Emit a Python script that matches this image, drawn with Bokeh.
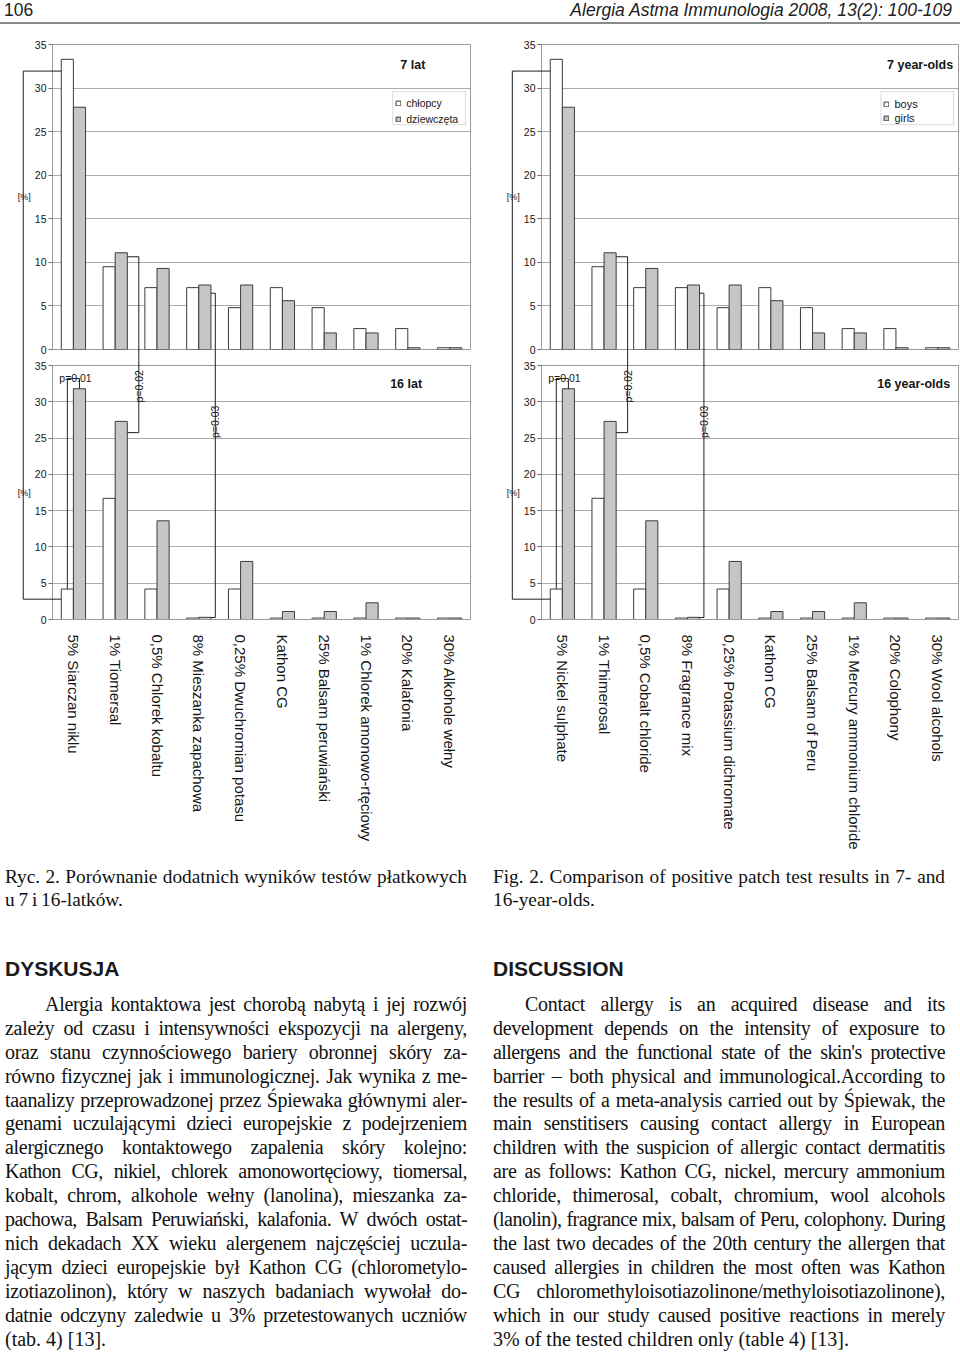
import math
from bokeh.plotting import figure
from bokeh.models import (ColumnDataSource, FactorRange, Range1d, FixedTicker, Label,
                          Legend, LegendItem, BoxAnnotation, Div)
from bokeh.transform import dodge
from bokeh.layouts import column, row
from bokeh.embed import file_html
from bokeh.resources import INLINE

# ---------------- data ----------------
categories_pl = ["5% Siarczan niklu", "1% Tiomersal", "0,5% Chlorek kobaltu",
                 "8% Mieszanka zapachowa", "0,25% Dwuchromian potasu", "Kathon CG",
                 "25% Balsam peruwiański", "1% Chlorek amonowo-rtęciowy",
                 "20% Kalafonia", "30% Alkohole wełny"]
categories_en = ["5% Nickel sulphate", "1% Thimerosal", "0,5% Cobalt chloride",
                 "8% Fragrance mix", "0,25% Potassium dichromate", "Kathon CG",
                 "25% Balsam of Peru", "1% Mercury ammonium chloride",
                 "20% Colophony", "30% Wool alcohols"]
boys_7yo = [33.3, 9.5, 7.1, 7.1, 4.8, 7.1, 4.8, 2.4, 2.4, 0.2]
girls_7yo = [27.8, 11.1, 9.3, 7.4, 7.4, 5.6, 1.9, 1.9, 0.2, 0.2]
boys_16yo = [4.2, 16.7, 4.2, 0.2, 4.2, 0.2, 0.2, 0.2, 0.2, 0.2]
girls_16yo = [31.8, 27.3, 13.6, 0.3, 8.0, 1.1, 1.1, 2.3, 0.2, 0.2]
y_ticks = [0, 5, 10, 15, 20, 25, 30, 35]
series_pl = ["chłopcy", "dziewczęta"]
series_en = ["boys", "girls"]
titles_pl = ["7 lat", "16 lat"]
titles_en = ["7 year-olds", "16 year-olds"]
p_labels = ["p=0.01", "p=0.02", "p=0.03", "p=0.01"]

header_left = "106"
header_right = "Alergia Astma Immunologia 2008, 13(2): 100-109"
caption_pl = ["Ryc. 2. Porównanie dodatnich wyników testów płatkowych", "u 7 i 16-latków."]
caption_en = ["Fig. 2. Comparison of positive patch test results in 7- and", "16-year-olds."]
heading_pl = "DYSKUSJA"
heading_en = "DISCUSSION"
text_pl = [
    "Alergia kontaktowa jest chorobą nabytą i jej rozwój",
    "zależy od czasu i intensywności ekspozycji na alergeny,",
    "oraz stanu czynnościowego bariery obronnej skóry za-",
    "równo fizycznej jak i immunologicznej. Jak wynika z me-",
    "taanalizy przeprowadzonej przez Śpiewaka głównymi aler-",
    "genami uczulającymi dzieci europejskie z podejrzeniem",
    "alergicznego kontaktowego zapalenia skóry kolejno:",
    "Kathon CG, nikiel, chlorek amonowortęciowy, tiomersal,",
    "kobalt, chrom, alkohole wełny (lanolina), mieszanka za-",
    "pachowa, Balsam Peruwiański, kalafonia. W dwóch ostat-",
    "nich dekadach XX wieku alergenem najczęściej uczula-",
    "jącym dzieci europejskie był Kathon CG (chlorometylo-",
    "izotiazolinon), który w naszych badaniach wywołał do-",
    "datnie odczyny zaledwie u 3% przetestowanych uczniów",
    "(tab. 4) [13].",
]
text_en = [
    "Contact allergy is an acquired disease and its",
    "development depends on the intensity of exposure to",
    "allergens and the functional state of the skin's protective",
    "barrier – both physical and immunological.According to",
    "the results of a meta-analysis carried out by Śpiewak, the",
    "main senstitisers causing contact allergy in European",
    "children with the suspicion of allergic contact dermatitis",
    "are as follows: Kathon CG, nickel, mercury ammonium",
    "chloride, thimerosal, cobalt, chromium, wool alcohols",
    "(lanolin), fragrance mix, balsam of Peru, colophony. During",
    "the last two decades of the 20th century the allergen that",
    "caused allergies in children the most often was Kathon",
    "CG chloromethyloisotiazolinone/methyloisotiazolinone),",
    "which in our study caused positive reactions in merely",
    "3% of the tested children only (table 4) [13].",
]

# ---------------- styles ----------------
SANS = "Liberation Sans"
SERIF = "Liberation Serif"
BOY_FILL = "#ffffff"
GIRL_FILL = "#c6c6c6"
BAR_LINE = "#3c3c3c"
GRID = "#ababab"
FRAME = "#9a9a9a"
INK = "#161616"
OFF = 0.145          # dodge of each bar from the category centre
BW = 0.29            # bar width (category units)
LINK_X = -0.70       # x of the long bracket left of the axis
P02_X = 2.065
P03_X = 3.895


def bar_center(i, s):
    return i + 0.5 + (-OFF if s == 0 else OFF)


def bar_edge(i, s, side):
    return bar_center(i, s) + side * BW / 2


def style_common(p):
    p.background_fill_color = "white"
    p.border_fill_color = "white"
    p.outline_line_color = FRAME
    p.outline_line_width = 1
    for g in p.grid:
        if g.dimension == 0:
            g.visible = False
        else:
            g.ticker = FixedTicker(ticks=y_ticks)
            g.grid_line_color = GRID
            g.grid_line_width = 1
    ax = p.yaxis[0]
    ax.ticker = FixedTicker(ticks=y_ticks)
    ax.major_tick_out = 4
    ax.major_tick_in = 0
    ax.minor_tick_line_color = None
    ax.axis_line_color = FRAME
    ax.major_tick_line_color = "#707070"
    ax.major_label_text_font = SANS
    ax.major_label_text_font_size = "10.5px"
    ax.major_label_text_color = INK
    ax.major_label_standoff = 2
    ax.axis_label = "[%]"
    ax.axis_label_orientation = "horizontal"
    ax.axis_label_text_font = SANS
    ax.axis_label_text_font_style = "normal"
    ax.axis_label_text_font_size = "9px"
    ax.axis_label_text_color = INK
    ax.axis_label_standoff = 1


def draw_bars(p, cats, boys, girls):
    src = ColumnDataSource(dict(cat=cats, boys=boys, girls=girls))
    rb = p.vbar(x=dodge("cat", -OFF, range=p.x_range), top="boys", width=BW, source=src,
                fill_color=BOY_FILL, line_color=BAR_LINE, line_width=1)
    rg = p.vbar(x=dodge("cat", OFF, range=p.x_range), top="girls", width=BW, source=src,
                fill_color=GIRL_FILL, line_color=BAR_LINE, line_width=1)
    return rb, rg


def p_label(p, text, x, y, angle=0.0, align="left"):
    p.add_layout(Label(x=x, y=y, text=text, angle=angle, text_align=align,
                       text_baseline="alphabetic", text_font=SANS,
                       text_font_size="10.5px", text_color=INK))


def make_top(cats, series, title, title_x, title_align, width, mbl, mbr, legend_rows):
    p = figure(x_range=FactorRange(*cats), y_range=Range1d(0, 35), width=width, height=327,
               min_border_left=mbl, min_border_right=mbr, min_border_top=14, min_border_bottom=8,
               x_axis_location=None, toolbar_location=None, output_backend="svg")
    style_common(p)
    rb, rg = draw_bars(p, cats, boys_7yo, girls_7yo)
    frame_w = width - mbl - mbr
    cw = frame_w / len(cats)
    # legend box (behind a borderless legend)
    box_l, box_r, box_t, box_b = 8.14, 9.88, 29.6, 25.8
    p.add_layout(BoxAnnotation(left=box_l, right=box_r, top=box_t, bottom=box_b,
                               fill_color="white", fill_alpha=1.0,
                               line_color="#8c8c8c", line_width=1))
    row_h, font_sz = legend_rows
    leg_h = 3 + row_h + 1 + row_h + 3
    top_px = (35 - box_t) * 305 / 35
    box_h = (box_t - box_b) * 305 / 35
    leg_y = 305 - top_px - box_h / 2 - leg_h / 2
    leg = Legend(items=[LegendItem(label=series[0], renderers=[rb]),
                        LegendItem(label=series[1], renderers=[rg])],
                 location=(box_l * cw + 3, leg_y), orientation="vertical",
                 glyph_width=6, glyph_height=6, label_height=row_h, label_standoff=5,
                 label_text_font=SANS, label_text_font_size=font_sz, label_text_color=INK,
                 padding=3, spacing=1, margin=0, border_line_color=None,
                 background_fill_alpha=0.0)
    p.add_layout(leg)
    p.add_layout(Label(x=title_x, y=32.6, text=title, text_align=title_align,
                       text_baseline="middle", text_font=SANS, text_font_style="bold",
                       text_font_size="12.5px", text_color=INK))
    # bracket pieces (continue into the lower panel)
    xs = [[LINK_X, LINK_X, bar_edge(0, 0, -1)],
          [bar_edge(1, 1, 1), P02_X, P02_X],
          [bar_edge(3, 1, 1), P03_X, P03_X]]
    ys = [[-3, 31.95, 31.95],
          [10.64, 10.64, -3],
          [6.46, 6.46, -3]]
    p.multi_line(xs=xs, ys=ys, line_color="#202020", line_width=1, level="overlay")
    p_label(p, p_labels[0], LINK_X, 0.2, angle=math.pi / 2)
    return p


def make_bottom(cats, title, title_x, title_align, width, mbl, mbr):
    p = figure(x_range=FactorRange(*cats), y_range=Range1d(0, 35), width=width, height=505,
               min_border_left=mbl, min_border_right=mbr, min_border_top=8, min_border_bottom=243,
               toolbar_location=None, output_backend="svg")
    style_common(p)
    draw_bars(p, cats, boys_16yo, girls_16yo)
    xa = p.xaxis[0]
    xa.major_label_orientation = "vertical"
    xa.major_label_text_font = SANS
    xa.major_label_text_font_size = "15px"
    xa.major_label_text_color = INK
    xa.major_tick_line_color = None
    xa.major_tick_out = 0
    xa.major_tick_in = 0
    xa.major_label_standoff = 15
    xa.axis_line_color = FRAME
    p.add_layout(Label(x=title_x, y=32.5, text=title, text_align=title_align,
                       text_baseline="middle", text_font=SANS, text_font_style="bold",
                       text_font_size="12.5px", text_color=INK))
    xs = [[LINK_X, LINK_X, bar_edge(0, 0, -1)],
          [P02_X, P02_X, bar_edge(1, 1, 1)],
          [P03_X, P03_X, bar_edge(3, 1, 1)],
          [bar_center(0, 0), bar_center(0, 0), bar_center(0, 1), bar_center(0, 1)]]
    ys = [[40, 2.8, 2.8],
          [40, 25.75, 25.75],
          [40, 0.27, 0.27],
          [boys_16yo[0], 33.2, 33.2, girls_16yo[0]]]
    p.multi_line(xs=xs, ys=ys, line_color="#202020", line_width=1, level="overlay")
    p_label(p, p_labels[1], P02_X, 29.9, angle=math.pi / 2)
    p_label(p, p_labels[2], P03_X, 25.0, angle=math.pi / 2)
    p_label(p, p_labels[3], 0.55, 33.3, align="center")
    return p


LW, RW = 488, 472
top_l = make_top(categories_pl, series_pl, titles_pl[0], 8.62, "center", LW, 52, 18, (15, "10.5px"))
top_r = make_top(categories_en, series_en, titles_en[0], 9.87, "right", RW, 53, 2, (13, "11px"))
bot_l = make_bottom(categories_pl, titles_pl[1], 8.46, "center", LW, 52, 18)
bot_r = make_bottom(categories_en, titles_en[1], 9.80, "right", RW, 53, 2)

# ---------------- text blocks ----------------
header = Div(width=960, height=30, margin=0, text=(
    "<div style=\"position:relative;height:24px;width:960px;"
    "border-bottom:2px solid #8a8a8a;font-family:'Liberation Sans',sans-serif;"
    "font-size:17.5px;line-height:18px;color:#222;\">"
    f"<span style=\"position:absolute;left:4px;top:1px;\">{header_left}</span>"
    f"<span style=\"position:absolute;right:8px;top:1px;font-style:italic;\">{header_right}</span>"
    "</div>"))

TIGHT_PL = {7, 9}
TIGHT_EN = {2, 9}


def text_block(caption, heading, lines, indent, pad_left, inner_w, tight):
    jl = "text-align:justify;text-align-last:justify;"
    cap = "".join(
        f"<div style=\"{jl if i < len(caption) - 1 else ''}\">{t}</div>"
        for i, t in enumerate(caption))
    body = []
    for i, t in enumerate(lines):
        if i < len(lines) - 1:
            st = jl + ("letter-spacing:-0.55px;" if i in tight else "letter-spacing:-0.3px;")
        else:
            st = "text-align:left;letter-spacing:0;word-spacing:0;"
        if i == 0:
            st += f"text-indent:{indent}px;"
        body.append(f"<div style=\"{st}\">{t}</div>")
    return (
        f"<div style=\"padding-left:{pad_left}px;width:{inner_w}px;"
        "font-family:'Liberation Serif',serif;color:#111;\">"
        f"<div style=\"padding-top:3.3px;font-size:19.3px;line-height:23px;word-spacing:-1px;\">{cap}</div>"
        "<div style=\"margin-top:45.1px;font-family:'Liberation Sans',sans-serif;font-weight:bold;"
        f"font-size:21px;line-height:26px;color:#1a1a1a;\">{heading}</div>"
        "<div style=\"margin-top:10.5px;font-size:20px;line-height:23.9px;"
        f"word-spacing:-3px;\">{''.join(body)}</div>"
        "</div>")


txt_l = Div(width=480, height=491, margin=0,
            text=text_block(caption_pl, heading_pl, text_pl, 40, 5, 467, TIGHT_PL))
txt_r = Div(width=480, height=491, margin=0,
            text=text_block(caption_en, heading_en, text_en, 32, 13, 465, TIGHT_EN))

page = column(header,
              row(top_l, top_r, spacing=0),
              row(bot_l, bot_r, spacing=0),
              row(txt_l, txt_r, spacing=0),
              spacing=0)

open("out.html", "w").write(file_html(page, INLINE))
